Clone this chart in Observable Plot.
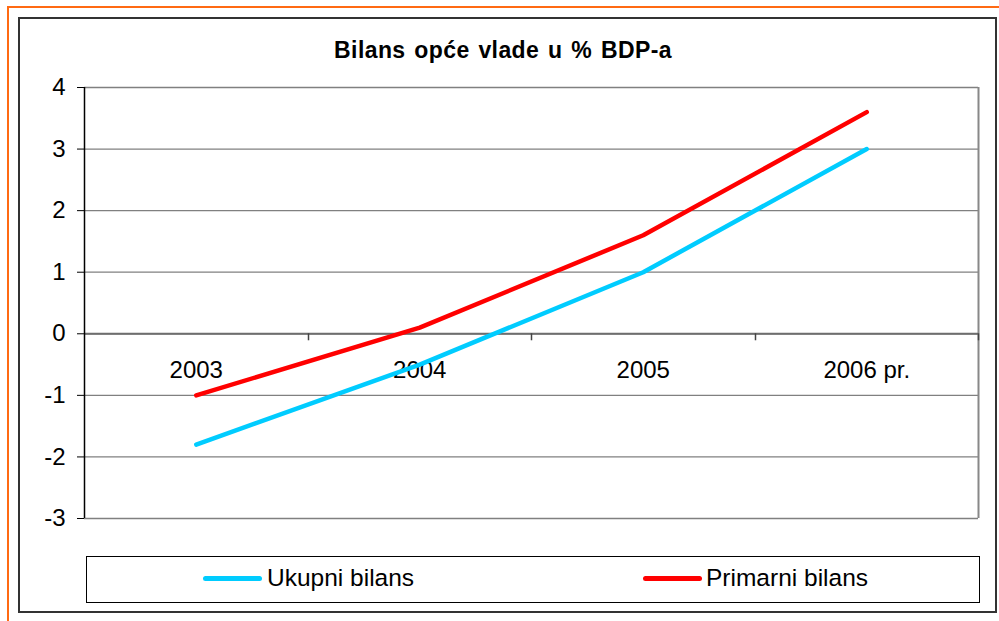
<!DOCTYPE html>
<html>
<head>
<meta charset="utf-8">
<script src="https://cdn.jsdelivr.net/npm/d3@7"></script>
<script src="https://cdn.jsdelivr.net/npm/@observablehq/plot@0.6"></script>
<style>
  html, body { margin: 0; padding: 0; background: #fff; }
  #wrap { position: relative; width: 999px; height: 621px; overflow: hidden; background: #fff;
          font-family: "Liberation Sans", Arial, sans-serif; color: #000; }
  #orange { position: absolute; left: 7px; top: 6px; width: 1200px; height: 900px;
            border-top: 2px solid #ff6a13; border-left: 2px solid #ff6a13; }
  #frame { position: absolute; left: 18px; top: 17px; width: 975px; height: 592px;
           border: 2px solid #333; }
  #title { position: absolute; left: 0; width: 1006px; top: 39px; text-align: center;
           font-size: 23px; line-height: 23px; font-weight: bold; letter-spacing: 0.4px; word-spacing: 2px; }
  #chart { position: absolute; left: 20px; top: 70px; }
  #legend { position: absolute; left: 86px; top: 556px; width: 892px; height: 45px;
            border: 1.5px solid #000; }
  .lg { position: absolute; font-size: 24.5px; line-height: 24px; white-space: nowrap; }
  .sw { position: absolute; height: 5px; border-radius: 3px; }
</style>
</head>
<body>
<div id="wrap">
  <div id="orange"></div>
  <div id="frame"></div>
  <div id="title"></div>
  <div id="chart"></div>
  <div id="legend"></div>
</div>
<script>
// ---- data ----
const titleText = "Bilans opće vlade u % BDP-a";
const years = ["2003", "2004", "2005", "2006 pr."];
const ukupni = [-1.8, -0.5, 1.0, 3.0];
const primarni = [-1.0, 0.1, 1.6, 3.6];
const yTicks = [-3, -2, -1, 0, 1, 2, 3, 4];
const seriesNames = ["Ukupni bilans", "Primarni bilans"];
const seriesColors = ["#00ccff", "#ff0000"];

document.getElementById("title").textContent = titleText;

const idx = years.map((d, i) => i);
const bounds = d3.range(1, years.length + 1);

const ukupniData = idx.map(i => ({x: i + 0.5, y: ukupni[i]}));
const primarniData = idx.map(i => ({x: i + 0.5, y: primarni[i]}));

// category boundary tick marks hanging below the zero line
function zeroTicks(index, scales, values, dimensions) {
  const g = d3.create("svg:g");
  const y0 = scales.y(0);
  for (const b of bounds) {
    const x = Math.round(scales.x(b)) + 0.5;
    g.append("line").attr("x1", x).attr("x2", x).attr("y1", y0).attr("y2", y0 + 7)
      .attr("stroke", "#444").attr("stroke-width", 1.5);
  }
  return g.node();
}

const chart = Plot.plot({
  width: 976,
  height: 480,
  marginLeft: 64,
  marginRight: 18,
  marginTop: 17,
  marginBottom: 32,
  style: {fontFamily: "'Liberation Sans', Arial, sans-serif", fontSize: "24px", color: "#000", background: "transparent", overflow: "visible"},
  x: {domain: [0, years.length], axis: null},
  y: {domain: [yTicks[0], yTicks[yTicks.length - 1]], axis: null},
  marks: [
    Plot.ruleY(yTicks, {stroke: "#808080", strokeWidth: 1.3}),
    Plot.ruleX([years.length], {stroke: "#888", strokeWidth: 2}),
    Plot.ruleY([0], {stroke: "#6e6e6e", strokeWidth: 2}),
    zeroTicks,
    Plot.axisY({ticks: yTicks, label: null, tickSize: 7, tickPadding: 12, stroke: "#000", fill: "#000", fontSize: 24, tickFormat: d => d < 0 ? "-" + Math.abs(d) : String(d)}),
    Plot.ruleX([0], {stroke: "#000", strokeWidth: 1.5}),
    Plot.text(idx, {x: i => i + 0.5, y: () => 0, text: i => years[i], dy: 37, fill: "#000", fontSize: 24}),
    Plot.line(ukupniData, {x: "x", y: "y", stroke: seriesColors[0], strokeWidth: 4.5, strokeLinecap: "round", strokeLinejoin: "round"}),
    Plot.line(primarniData, {x: "x", y: "y", stroke: seriesColors[1], strokeWidth: 4.5, strokeLinecap: "round", strokeLinejoin: "round"})
  ]
});
document.getElementById("chart").appendChild(chart);

// legend
const legend = document.getElementById("legend");
const legendPos = [{sw: 116, tx: 180}, {sw: 556, tx: 619}];
seriesNames.forEach((name, i) => {
  const sw = document.createElement("div");
  sw.className = "sw";
  sw.style.left = legendPos[i].sw + "px";
  sw.style.top = "19px";
  sw.style.width = "59px";
  sw.style.background = seriesColors[i];
  legend.appendChild(sw);
  const t = document.createElement("div");
  t.className = "lg";
  t.style.left = legendPos[i].tx + "px";
  t.style.top = "9px";
  t.textContent = name;
  legend.appendChild(t);
});
</script>
</body>
</html>
